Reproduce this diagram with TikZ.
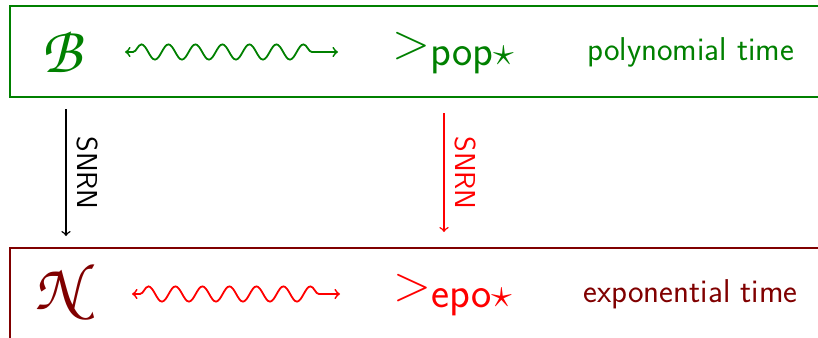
\documentclass[tikz,border=0pt]{standalone}
\usetikzlibrary{decorations.pathmorphing}
\DeclareMathAlphabet{\mathpzc}{OT1}{pzc}{m}{it}
\definecolor{dgreen}{RGB}{0,128,0}
\definecolor{dred}{RGB}{128,0,0}
\newcommand{\subtxt}[1]{\raisebox{-3.7pt}{\fontsize{21.5}{24}\selectfont\sffamily #1$\star$}}
\tikzset{
  frame/.style={line width=1pt},
  wavy/.style={<->, line width=0.9pt, decorate,
    decoration={snake, amplitude=3.8pt, segment length=13.5pt, pre length=4pt, post length=10pt}},
  big/.style={font=\Huge, inner sep=0pt},
  cal/.style={font=\fontsize{33}{36}\selectfont, inner sep=0pt},
  txt/.style={font=\sffamily\fontsize{16.5}{20}\selectfont, inner sep=0pt, anchor=base west},
  vlab/.style={font=\sffamily\Large, rotate=-90, inner sep=0pt},
  varrow/.style={->, line width=0.75pt}
}
\begin{document}
\begin{tikzpicture}[x=0.5pt,y=-0.5pt]
\useasboundingbox (0,0) rectangle (818,337);
\clip (0,0) rectangle (818,337);
% top box
\draw[frame, dgreen] (830,6) -- (10,6) -- (10,97) -- (830,97);
\node[cal, text=dgreen] (B) at (64,52) {$\mathpzc{B}$};
\coordinate (w1s) at (125,52);
\coordinate (w1e) at (338,52);
\draw[wavy, dgreen] (w1s) -- (w1e);
\node[big, text=dgreen, anchor=base west] (pop) at (392,58) {$>$\subtxt{pop}};
\node[txt, text=dgreen] (poly) at (587,60) {polynomial time};
% arrows
\coordinate (a1) at (66,109);
\coordinate (a2) at (66,236);
\draw[varrow, black] (a1) -- (a2);
\node[vlab, text=black] (l1) at (87,173) {SNRN};
\coordinate (b1) at (444,113);
\coordinate (b2) at (444,232);
\draw[varrow, red] (b1) -- (b2);
\node[vlab, text=red] (l2) at (465,173) {SNRN};
% bottom box
\draw[frame, dred] (10,350) -- (10,248) -- (830,248);
\node[cal, text=dred] (N) at (65,292) {$\mathpzc{N}$};
\coordinate (w2s) at (132,294);
\coordinate (w2e) at (340,294);
\draw[wavy, red] (w2s) -- (w2e);
\node[big, text=red, anchor=base west] (epo) at (393,300) {$>$\subtxt{epo}};
\node[txt, text=dred] (expo) at (583,302) {exponential time};
\end{tikzpicture}
\end{document}
